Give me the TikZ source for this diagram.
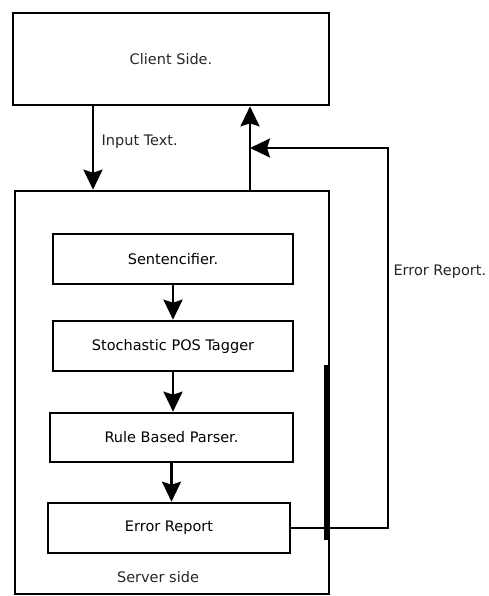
\documentclass[tikz,border=0pt]{standalone}
\usepackage{fontspec}
\setmainfont{DejaVu Sans}
\usetikzlibrary{arrows.meta,positioning}

\newcommand{\GCblockw}{240pt}
\newcommand{\GCblockh}{50pt}
\newcommand{\GCfeedx}{388}

\begin{document}
\begin{tikzpicture}[x=1pt,y=-1pt,
	block/.style={draw=black,line width=2.6pt,minimum width=\GCblockw,minimum height=\GCblockh,inner sep=0pt,font=\fontsize{14.5}{17}\selectfont},
	frame/.style={draw=black,line width=2.6pt,inner sep=0pt},
	lbl/.style={font=\fontsize{14.5}{17}\selectfont,text=black!85},
	link/.style={line width=2.6pt,-{Stealth[length=20pt,width=19pt,inset=3pt]}},
	wire/.style={line width=2.6pt}]

	\useasboundingbox (0,0) rectangle (488,596);

	%The client and the server
	\node[frame,minimum width=316pt,minimum height=92pt,lbl] (client) at (171,59) {Client Side.};
	\node[frame,minimum width=314pt,minimum height=403pt] (server) at (172,392.5) {};
	\node[lbl] (serverlbl) at (158,577) {Server side};

	%The blocks inside the server
	\node[block] (sent) at (173,259) {Sentencifier.};
	\node[block] (tagger) at (173,346) {Stochastic POS Tagger};
	\node[block,minimum width=243pt,minimum height=49pt] (parser) at (171.5,437.5) {Rule Based Parser.};
	\node[block,minimum width=242pt] (report) at (169,528) {Error Report};

	%The thick piece on the server's right side
	\draw[line width=4pt] (326,365) -- (326,540);

	%Pipeline arrows
	\draw[link] (sent.south -| tagger.north) -- (tagger.north);
	\draw[link] (tagger.south) -- (parser.north -| tagger.south);
	\draw[link] (parser.south) -- (report.north -| parser.south);

	%Client to server and back
	\coordinate (inx) at (93,0);
	\coordinate (outx) at (250,0);
	\coordinate (fb) at (250,148);
	\draw[link] (client.south -| inx) -- node[lbl,right=4pt,pos=0.42] (inlbl) {Input Text.} (server.north -| inx);
	\draw[link] (server.north -| outx) -- (client.south -| outx);

	%The error report fed back
	\draw[link] (report.east) -- (report.east -| \GCfeedx,0) -- (\GCfeedx,148) -- (fb);
	\node[lbl,anchor=west] (errlbl) at (390,272) {Error Report.};

\end{tikzpicture}
\end{document}
